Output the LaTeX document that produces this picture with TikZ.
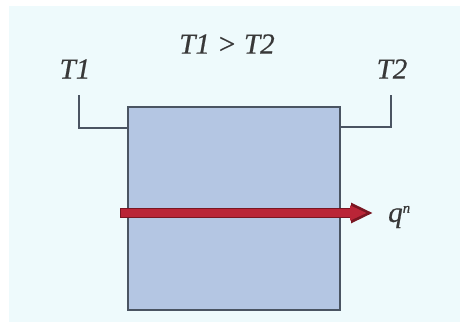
\documentclass[tikz,border=0pt]{standalone}
\usepackage{fontspec}
\setmainfont{Liberation Serif}
\usetikzlibrary{arrows.meta}
\definecolor{bgc}{HTML}{EEFAFC}
\definecolor{boxc}{HTML}{B4C6E3}
\definecolor{edgec}{HTML}{4A5462}
\definecolor{arrc}{HTML}{BA2537}
\definecolor{arrd}{HTML}{7A1622}
\definecolor{txtc}{HTML}{383838}
\tikzset{
  lbl/.style={text=txtc, font=\fontsize{29}{33}\selectfont\itshape\addfontfeature{FakeBold=0.6}, inner sep=0pt},
  bracket/.style={draw=edgec, line width=1.3pt},
  slab/.style={draw=edgec, line width=1.6pt, fill=boxc},
}
\begin{document}
\begin{tikzpicture}[x=1pt,y=-1pt]
\useasboundingbox (0,0) rectangle (460,324);
\fill[white] (0,0) rectangle (460,324);
\fill[bgc] (9,6) rectangle (460,322);
\node[slab, minimum width=212pt, minimum height=203pt, inner sep=0pt] (box) at (234,208.5) {};
\node[lbl] (t12) at (227,44) {T1 > T2};
\node[lbl] (t1) at (75,69) {T1};
\node[lbl] (t2) at (392,69) {T2};
\coordinate (l1) at (79,95);
\coordinate (r1) at (391,95);
\draw[bracket] (l1) |- (box.west |- 0,128);
\draw[bracket] (r1) |- (box.east |- 0,127);
\coordinate (as) at (120,213);
\coordinate (ae) at (373,213);
\draw[arrd, line width=10pt, -{Triangle[length=22pt,width=19pt]}] (as) -- (ae);
\draw[arrc, line width=7.5pt, shorten >=3pt, -{Triangle[length=17pt,width=14pt]}] ([xshift=1.2pt]as) -- ([xshift=-3pt]ae);
\node[lbl, anchor=west] (q) at (388,217) {q\textsuperscript{\fontsize{15}{17}\selectfont n}};
\end{tikzpicture}
\end{document}
